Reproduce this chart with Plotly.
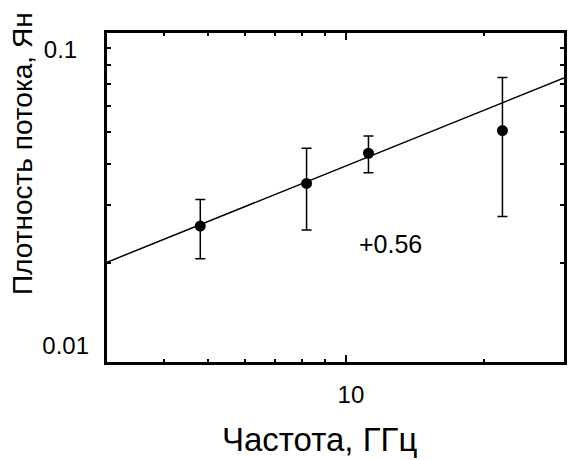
import math
import plotly.graph_objects as go

# ---- data ----
freq_ghz = [4.8, 8.2, 11.2, 22.0]
flux_jy = [0.0259, 0.0349, 0.0431, 0.0505]
flux_err = [0.0053, 0.0097, 0.0055, 0.0228]

fit_freq = [3.0, 30.0]
fit_flux = [0.0201, 0.0730]
fit_label = "+0.56"

x_range = [3.0, 30.0]
y_range = [0.01, 0.1]
x_major = [10]
x_major_text = ["10"]
x_minor = [4, 5, 6, 7, 8, 9, 20]
y_top_tick = [0.1]
y_top_text = ["0.1"]
y_bottom_tick = [0.01]
y_bottom_text = ["0.01"]
y_minor = [0.02, 0.03, 0.04, 0.05, 0.06, 0.07, 0.08, 0.09]

x_title = "Частота, ГГц"
y_title = "Плотность потока, Ян"

# ---- layout geometry ----
W, H = 568, 460
L, R, T, B = 107, 1, 33, 98
PW, PH = W - L - R, H - T - B

def px(xpix):
    return (xpix - L) / PW

def py(ypix):
    return (H - B - ypix) / PH

FONT = "Liberation Sans, Arial, Helvetica, sans-serif"

fig = go.Figure()

fig.add_trace(go.Scatter(
    x=fit_freq, y=fit_flux, mode="lines",
    line=dict(color="black", width=1.5),
    showlegend=False, hoverinfo="skip", yaxis="y2",
))

fig.add_trace(go.Scatter(
    x=freq_ghz, y=flux_jy, mode="markers",
    marker=dict(color="black", size=11),
    error_y=dict(type="data", array=flux_err, visible=True,
                 color="black", thickness=1.5, width=5),
    showlegend=False,
))

lx = [math.log10(v) for v in x_range]
ly = [math.log10(v) for v in y_range]

fig.update_layout(
    width=W, height=H,
    margin=dict(l=L, r=R, t=T, b=B, pad=0),
    paper_bgcolor="white", plot_bgcolor="white",
    showlegend=False,
    xaxis=dict(
        type="log", range=lx,
        tickmode="array", tickvals=x_major, ticktext=x_major_text,
        ticks="inside", ticklen=7, tickwidth=2, tickcolor="black",
        showline=True, linewidth=3, linecolor="black", mirror="ticks",
        showgrid=False, zeroline=False,
        tickfont=dict(family=FONT, size=24, color="black"),
        ticklabelshift=5, ticklabelstandoff=9,
        minor=dict(tickmode="array", tickvals=x_minor, ticks="inside",
                   ticklen=3, tickwidth=2, tickcolor="black", showgrid=False),
    ),
    yaxis=dict(
        type="log", range=ly,
        tickmode="array", tickvals=y_top_tick, ticktext=y_top_text,
        ticks="inside", ticklen=4, tickwidth=2, tickcolor="black",
        showline=True, linewidth=3, linecolor="black", mirror="ticks",
        showgrid=False, zeroline=False,
        tickfont=dict(family=FONT, size=24, color="black"),
        ticklabelshift=17, ticklabelstandoff=22,
        minor=dict(tickmode="array", tickvals=y_minor, ticks="inside",
                   ticklen=4, tickwidth=2, tickcolor="black", showgrid=False),
    ),
    yaxis2=dict(
        type="log", range=ly, overlaying="y", side="left", anchor="x",
        tickmode="array", tickvals=y_bottom_tick, ticktext=y_bottom_text,
        ticks="", showline=False, showgrid=False, zeroline=False,
        tickfont=dict(family=FONT, size=24, color="black"),
        ticklabelshift=-16, ticklabelstandoff=17,
    ),
    annotations=[
        dict(text=y_title, xref="paper", yref="paper",
             x=px(22), y=py(153.5), textangle=-90,
             xanchor="center", yanchor="middle", showarrow=False,
             font=dict(family=FONT, size=28, color="black")),
        dict(text=x_title, xref="paper", yref="paper",
             x=px(321), y=py(439), xanchor="center", yanchor="middle",
             showarrow=False,
             font=dict(family=FONT, size=33, color="black")),
        dict(text=fit_label, xref="paper", yref="paper",
             x=px(392.5), y=py(244.5), xanchor="center", yanchor="middle",
             showarrow=False,
             font=dict(family=FONT, size=25, color="black")),
    ],
)

fig.write_html("out.html")
